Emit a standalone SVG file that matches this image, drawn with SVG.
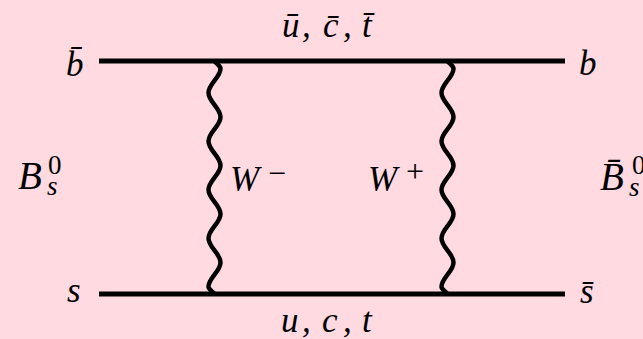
<svg xmlns="http://www.w3.org/2000/svg" width="643" height="339" viewBox="0 0 643 339">
<style>
.bg{fill:#FFDAE0}
.fermion{stroke:#000;stroke-width:5;fill:none}
.boson{stroke:#000;stroke-width:4.5;fill:none;stroke-linecap:butt}
.lbl{font-family:"Liberation Serif","Times New Roman",serif;font-style:italic;font-size:35px;fill:#000}
.big{font-size:39px}
.sup{font-size:27px;font-style:normal}
.op{font-size:32px;font-style:normal}
.sub{font-size:27px}
</style>
<rect class="bg" x="0" y="0" width="643" height="339"/>
<g id="connectors">
<line class="fermion" x1="99" y1="61" x2="565" y2="61"/>
<line class="fermion" x1="99" y1="294" x2="565" y2="294"/>
<path class="boson" d="M214.5,61 c2,2.5 6,5 6,7.5 c0,9 -12,15.25 -12,24.25 c0,9 12,15.25 12,24.25 c0,9 -12,15.25 -12,24.25 c0,9 12,15.25 12,24.25 c0,9 -12,15.25 -12,24.25 c0,9 12,15.25 12,24.25 c0,9 -12,15.25 -12,24.25 c0,9 12,15.25 12,24.25 c0,9 -12,15.25 -12,24.25 c0,2.5 4,4.75 6,7.25"/>
<path class="boson" d="M447.5,61 c2,2.5 6,5 6,7.5 c0,9 -12,15.25 -12,24.25 c0,9 12,15.25 12,24.25 c0,9 -12,15.25 -12,24.25 c0,9 12,15.25 12,24.25 c0,9 -12,15.25 -12,24.25 c0,9 12,15.25 12,24.25 c0,9 -12,15.25 -12,24.25 c0,9 12,15.25 12,24.25 c0,9 -12,15.25 -12,24.25 c0,2.5 4,4.75 6,7.25"/>
</g>
<g id="b-bar-left"><text class="lbl" x="66" y="76">b̄</text></g>
<g id="s-left"><text class="lbl" x="67" y="302">s</text></g>
<g id="Bs0"><text class="lbl big" x="18" y="189">B<tspan class="sub" x="47" y="195">s</tspan><tspan class="sup" x="48" y="174">0</tspan></text></g>
<g id="b-right"><text class="lbl" x="579" y="75">b</text></g>
<g id="s-bar-right"><text class="lbl" x="580" y="303">s̄</text></g>
<g id="Bs0-bar"><text class="lbl big" x="600" y="190">B̄<tspan class="sub" x="629" y="196">s</tspan><tspan class="sup" x="632" y="174">0</tspan></text></g>
<g id="W-minus"><text class="lbl" x="230" y="191">W<tspan class="op" x="268" y="184">−</tspan></text></g>
<g id="W-plus"><text class="lbl" x="368" y="191">W<tspan class="op" x="406" y="182">+</tspan></text></g>
<g id="top-label"><text class="lbl" x="282" y="37">ū<tspan x="302">, </tspan><tspan x="323">c̄</tspan><tspan x="343">, </tspan><tspan x="362">t̄</tspan></text></g>
<g id="bottom-label"><text class="lbl" x="281" y="332">u<tspan x="302">, </tspan><tspan x="322">c</tspan><tspan x="343">, </tspan><tspan x="362">t</tspan></text></g>
</svg>
